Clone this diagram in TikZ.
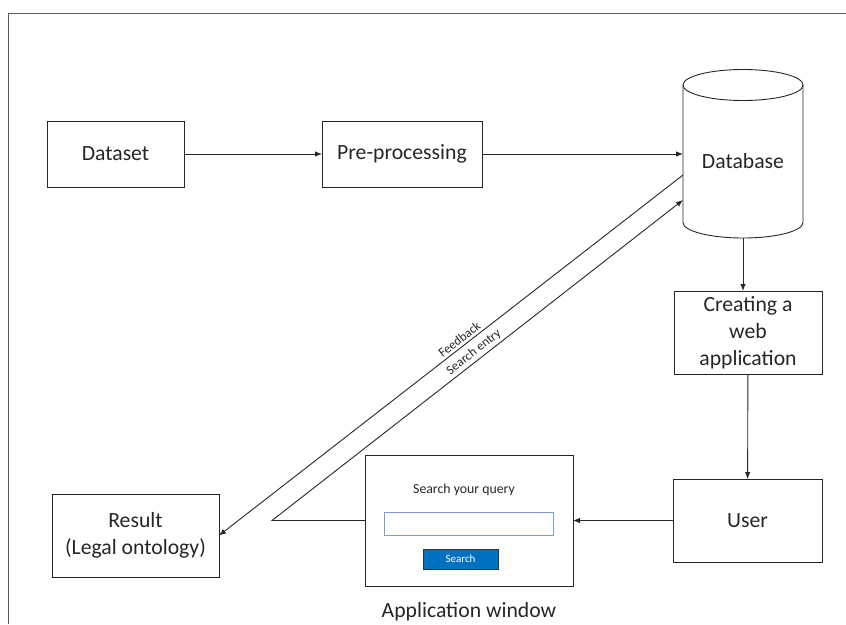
\documentclass[tikz,border=0pt]{standalone}
\usepackage{fontspec}
\setmainfont{Carlito}
\usetikzlibrary{arrows.meta}
\definecolor{btnblue}{HTML}{0070C0}
\definecolor{inputblue}{HTML}{7F9BD4}

\begin{document}
\begin{tikzpicture}[x=1pt,y=-1pt,inner sep=0pt,outer sep=0pt,line width=0.9pt,color=black!85,
>={Latex[length=7pt,width=5.5pt]},
procblock/.style={draw,rectangle,align=center,font=\fontsize{21.7}{27}\selectfont},
linelabel/.style={font=\fontsize{12.8}{15}\selectfont,sloped,above=3pt}]

\useasboundingbox (0,0) rectangle (846,624);
% frame of the page figure
\draw[black!65] (8,624) -- (8,13) -- (846,13);

\draw (115.5,154) node[procblock,minimum width=137pt,minimum height=66pt] (dataset) {Dataset};
\draw (402,154) node[procblock,minimum width=160pt,minimum height=66pt] (pre) {Pre-processing};
\draw (743,161.5) node[procblock,draw=none,minimum width=120pt,minimum height=153pt] (db) {Database};
\draw (748,332.5) node[procblock,minimum width=148pt,minimum height=83pt] (web) {Creating a\\web\\application};
\draw (747.5,520.5) node[procblock,minimum width=149pt,minimum height=83pt] (user) {User};
\draw (135.5,535.5) node[procblock,minimum width=167pt,minimum height=83pt] (result) {Result\\(Legal ontology)};

% database drum
\draw (db.north west) -- ([yshift=15.5pt]db.south west) arc[start angle=180,end angle=360,x radius=60pt,y radius=15.5pt] -- (db.north east);
\draw (db.north) ellipse[x radius=60pt,y radius=15.5pt];

% application window
\draw (469,520.5) node[draw,minimum width=208pt,minimum height=131pt] (app) {};
\draw (464,490) node[font=\fontsize{13.8}{16}\selectfont] (query) {Search your query};
\draw (468.5,523.5) node[draw=inputblue,fill=white,line width=0.9pt,minimum width=169pt,minimum height=23pt] (input) {};
\draw (460.5,559) node[fill=btnblue,draw=black!80,text=white,minimum width=75pt,minimum height=20pt,font=\fontsize{11}{13}\selectfont] (button) {Search};
\draw (app.south) ++(0,26) node[font=\fontsize{21.7}{27}\selectfont] (applabel) {Application window};

\draw[->] (dataset) -- (pre);
\draw[->] (pre.east) -- (pre.east -| db.west);
\draw[->] (db.south) -- (db.south |- web.north);
\draw[->] (web) -- (user);
\draw[->] (user) -- (app);
\draw[->] (app.west) -- ++(-93,0) coordinate (bend) -- node[linelabel,pos=0.504] {Search entry} ([yshift=-38.5pt]db.west);
\draw[->] ([yshift=-13.5pt]db.west) -- node[linelabel,pos=0.472] {Feedback} (result.east);
\end{tikzpicture}
\end{document}
